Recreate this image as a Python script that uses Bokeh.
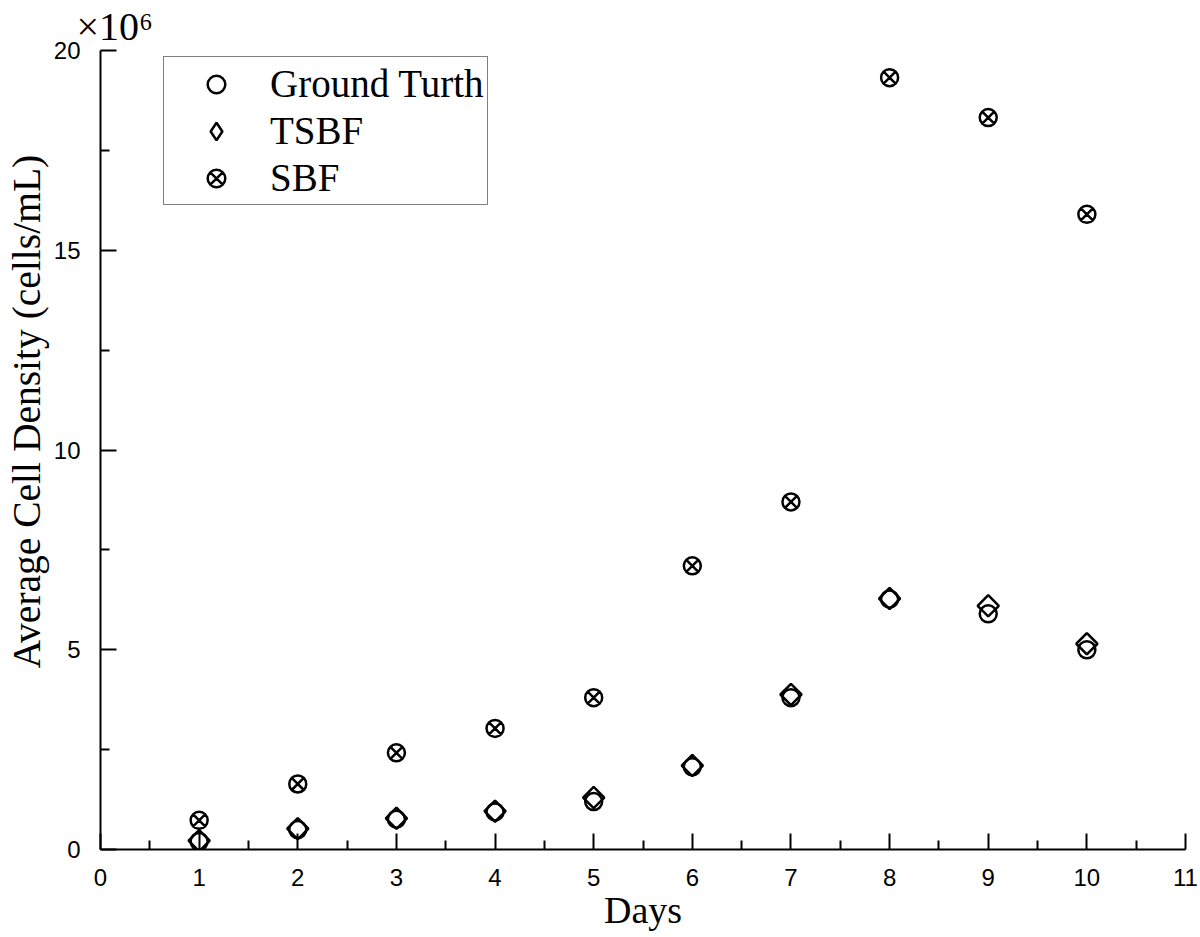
import numpy as np
from bokeh.plotting import figure
from bokeh.models import Range1d, FixedTicker, Legend, LegendItem, Title
from bokeh.embed import file_html
from bokeh.resources import INLINE

# ---- data (cells/mL, in units of 1e6) ----
days = [1, 2, 3, 4, 5, 6, 7, 8, 9, 10]
ground_truth = [0.20, 0.50, 0.76, 0.94, 1.20, 2.07, 3.80, 6.27, 5.90, 5.00]
tsbf = [0.22, 0.52, 0.78, 0.96, 1.30, 2.10, 3.88, 6.28, 6.10, 5.15]
sbf = [0.73, 1.64, 2.42, 3.03, 3.80, 7.10, 8.70, 19.32, 18.32, 15.90]

x_ticks = list(range(0, 12))
x_minor = [i + 0.5 for i in range(0, 11)]
y_ticks = [0, 5, 10, 15, 20]
y_minor = [2.5, 7.5, 12.5, 17.5]

SERIF = "Liberation Serif"
SANS = "Liberation Sans"

p = figure(width=1198, height=935, output_backend="svg", toolbar_location=None,
           x_range=Range1d(0, 11), y_range=Range1d(0, 20),
           min_border_left=100, min_border_right=13, min_border_top=50, min_border_bottom=86)
p.outline_line_color = None
p.xgrid.grid_line_color = None
p.ygrid.grid_line_color = None
p.background_fill_color = "white"
p.border_fill_color = "white"

for ax, t, m in ((p.xaxis[0], x_ticks, x_minor), (p.yaxis[0], y_ticks, y_minor)):
    ax.ticker = FixedTicker(ticks=t, minor_ticks=m)
    ax.axis_line_color = "black"
    ax.axis_line_width = 2
    ax.major_tick_line_color = "black"
    ax.major_tick_line_width = 2
    ax.minor_tick_line_color = "black"
    ax.minor_tick_line_width = 2
    ax.major_tick_in = 16
    ax.major_tick_out = 0
    ax.minor_tick_in = 9
    ax.minor_tick_out = 0
    ax.major_label_text_font = SANS
    ax.major_label_text_font_size = "24px"
    ax.major_label_text_color = "black"

p.xaxis[0].major_label_standoff = 19
p.yaxis[0].major_label_standoff = 20

p.xaxis[0].axis_label = "Days"
p.xaxis[0].axis_label_text_font = SERIF
p.xaxis[0].axis_label_text_font_size = "38px"
p.xaxis[0].axis_label_text_font_style = "normal"
p.xaxis[0].axis_label_text_color = "black"
p.xaxis[0].axis_label_text_line_height = 0.8
p.xaxis[0].axis_label_standoff = 0

r_gt = p.scatter(days, ground_truth, marker="circle", size=17, line_color="black",
                 line_width=2.5, fill_color=None)
r_ts = p.scatter(days, tsbf, marker="square", angle=np.pi / 4, size=15, line_color="black",
                 line_width=2.5, fill_color=None)
r_sb = p.scatter(days, sbf, marker="circle_x", size=17, line_color="black",
                 line_width=2.5, fill_color=None)
# legend key for the diamond symbol (legend glyphs are drawn unrotated); no visible point
r_ts_key = p.scatter([float("nan")], [float("nan")], marker="diamond", size=22,
                     line_color="black", line_width=2.5, fill_color=None)

legend = Legend(items=[LegendItem(label="Ground Turth", renderers=[r_gt]),
                       LegendItem(label="TSBF", renderers=[r_ts_key]),
                       LegendItem(label="SBF", renderers=[r_sb])],
                location=(63, 644))
legend.label_text_font = SERIF
legend.label_text_font_size = "39px"
legend.label_text_color = "black"
legend.border_line_color = "black"
legend.border_line_width = 1.5
legend.background_fill_color = "white"
legend.background_fill_alpha = 1
legend.padding = 4
legend.margin = 0
legend.spacing = 2
legend.glyph_width = 96
legend.glyph_height = 44
legend.label_height = 44
legend.label_standoff = 6
p.add_layout(legend, "center")

# y-axis title (left panel, starting above the frame bottom as in the reference)
p.add_layout(Title(text="Average Cell Density (cells/mL)", align="left", offset=181,
                   vertical_align="top", text_font=SERIF, text_font_size="39.5px",
                   text_font_style="normal", text_color="black", standoff=0), "left")
# scale factor above the axis
p.add_layout(Title(text="×10⁶", align="left", offset=-24, vertical_align="top",
                   text_font=SERIF, text_font_size="40px", text_font_style="normal",
                   text_color="black", standoff=0), "above")

open("out.html", "w").write(file_html(p, INLINE))
